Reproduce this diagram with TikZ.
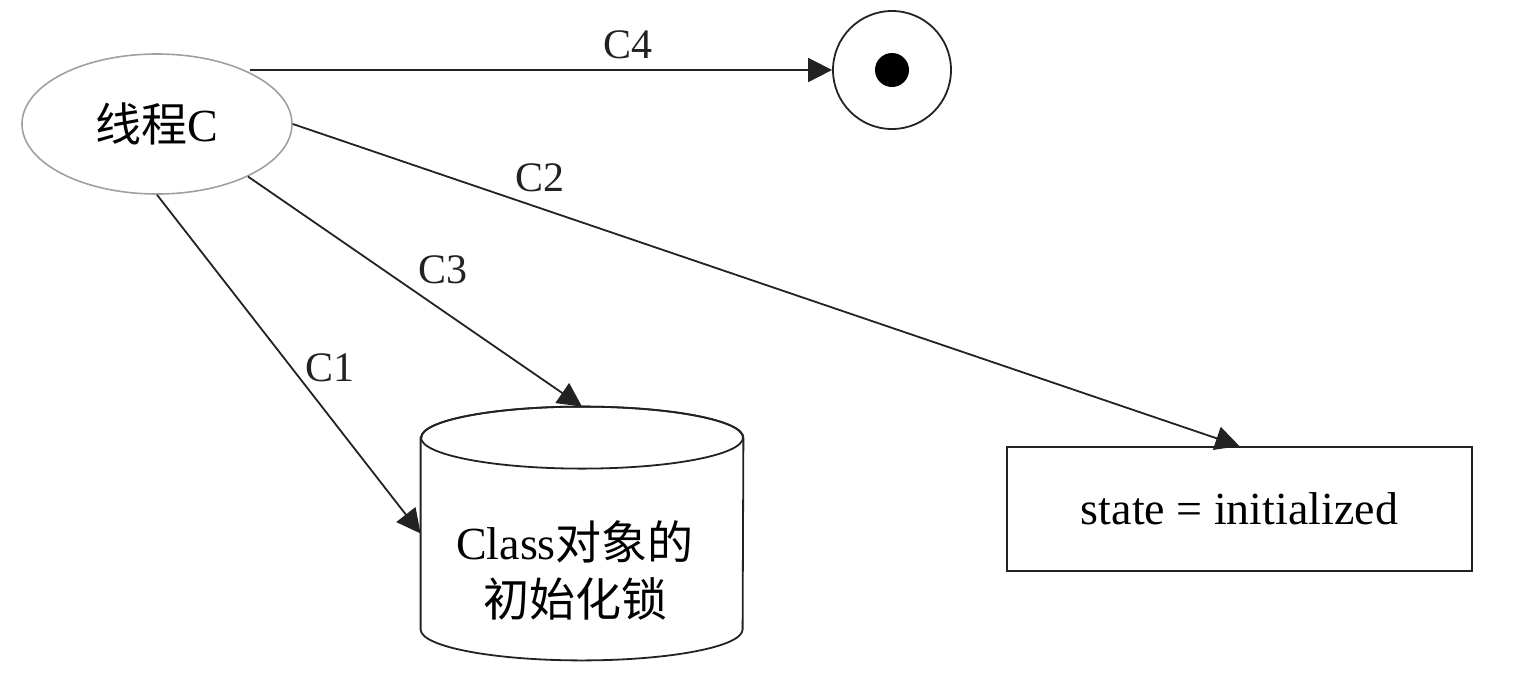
\documentclass[tikz,border=0pt]{standalone}
\usepackage{fontspec}
\setmainfont{Liberation Serif}
\newfontfamily\cjk{Noto Sans CJK SC}
\usetikzlibrary{arrows.meta,shapes.geometric}
\definecolor{ink}{HTML}{222222}
\definecolor{soft}{HTML}{A0A0A0}
\begin{document}
\begin{tikzpicture}[x=0.5pt,y=-0.5pt,
  bigtxt/.style={font=\fontsize{23pt}{28.5pt}\selectfont},
  lbl/.style={font=\fontsize{21pt}{25pt}\selectfont, text=ink, inner sep=0pt},
  conn/.style={draw=ink, line width=0.9pt, -{Triangle[length=12pt,width=12pt]}},
  box/.style={draw=ink, line width=0.9pt, inner sep=0pt}]
\useasboundingbox (0,0) rectangle (1516,676);
\node[ellipse, draw=soft, line width=0.8pt, minimum width=135pt, minimum height=70pt, inner sep=0pt, bigtxt] (thr) at (157,124) {{\cjk 线程}C};
\node[circle, box, minimum size=59pt] (fin) at (892,70) {};
\node[circle, fill=black, inner sep=0pt, minimum size=17pt] (dot) at (fin.center) {};
\node[rectangle, box, minimum width=232.5pt, minimum height=62pt, bigtxt] (st) at (1239.5,509) {state = initialized};
% cylinder: invisible frame node, outline drawn from its anchors
\node[rectangle, inner sep=0pt, minimum width=161pt, minimum height=126.5pt] (lock) at (582,533.5) {};
\draw[ink, line width=0.9pt]
  ([yshift=-15.5pt]lock.north west) -- ([yshift=15.5pt]lock.south west)
  arc[start angle=180, end angle=360, x radius=80.5pt, y radius=15.5pt]
  -- ([yshift=-15.5pt]lock.north east)
  arc[start angle=0, end angle=180, x radius=80.5pt, y radius=15.5pt] -- cycle;
\draw[ink, line width=0.9pt] ([yshift=-15.5pt]lock.north) ellipse[x radius=80.5pt, y radius=15.5pt];
\node[bigtxt, align=center, inner sep=0pt] (locktxt) at (575,570) {Class{\cjk 对象的}\\{\cjk 初始化锁}};
\draw[conn] (fin.west -| thr.29) -- (fin.west);
\draw[conn] (thr.east) -- (st.north);
\draw[conn] (thr.-30) -- (lock.north);
\draw[conn] (thr.south) -- (lock.west);
\node[lbl] (l4) at (628,45) {C4};
\node[lbl] (l2) at (540,178) {C2};
\node[lbl] (l3) at (443,270) {C3};
\node[lbl] (l1) at (330,368) {C1};
\end{tikzpicture}
\end{document}
